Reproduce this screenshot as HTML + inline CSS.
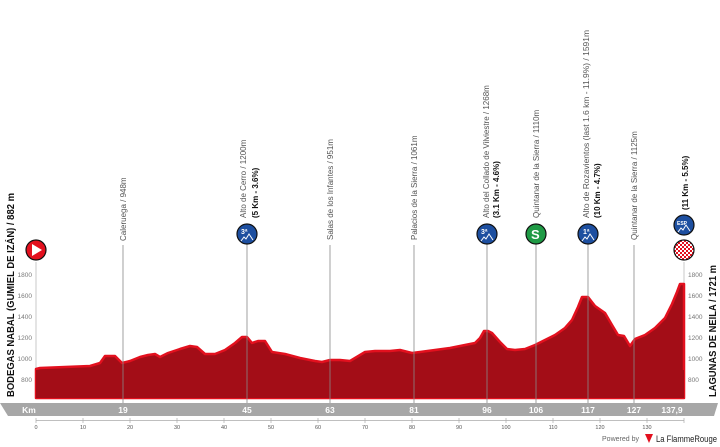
<!DOCTYPE html>
<html><head><meta charset="utf-8"><style>
html,body{margin:0;padding:0;background:#fff;}
svg{display:block;font-family:"Liberation Sans",sans-serif;}
</style></head><body>
<svg width="720" height="447" viewBox="0 0 720 447" xmlns="http://www.w3.org/2000/svg">
<g stroke="#bbb" stroke-width="0.8">
<line x1="36" y1="262" x2="36" y2="398"/>
<line x1="684" y1="262" x2="684" y2="398"/>
</g>
<g font-size="6.5" fill="#777" text-anchor="end">
<text x="32" y="277">1800</text><text x="32" y="298">1600</text><text x="32" y="319">1400</text><text x="32" y="340">1200</text><text x="32" y="361">1000</text><text x="32" y="382">800</text>
</g>
<g font-size="6.5" fill="#777">
<text x="688" y="277">1800</text><text x="688" y="298">1600</text><text x="688" y="319">1400</text><text x="688" y="340">1200</text><text x="688" y="361">1000</text><text x="688" y="382">800</text>
</g>
<path d="M36,398 L36,369 L40,368 L90,366 L100,363 L105,356 L115,356 L122,363 L130,361 L140,357 L148,355 L155,354 L160,357 L168,353 L180,349 L190,346 L197,347 L205,354 L215,354 L225,350 L235,343 L242,337 L247,337 L252,343 L258,341 L265,341 L272,352 L285,354 L300,358 L315,361 L322,362 L330,360 L340,360 L350,361 L355,358 L365,352 L375,351 L390,351 L400,350 L412,353 L420,352 L435,350 L450,348 L465,345 L475,343 L480,338 L484,331 L488,331 L492,333 L500,342 L507,349 L515,350 L525,349 L535,345 L545,340 L555,335 L565,328 L572,320 L578,307 L582,297 L588,297 L595,306 L605,313 L612,325 L618,335 L624,336 L630,346 L635,339 L645,335 L655,328 L665,318 L672,304 L677,292 L680,284 L684,284 L684,398 Z" fill="#a30d17" stroke="#e3101e" stroke-width="2.5" stroke-linejoin="round"/>
<rect x="36" y="370" width="648" height="28" fill="#a30d17"/>
<g stroke="#888" stroke-width="0.8">
<line x1="123" y1="245" x2="123" y2="404"/>
<line x1="247" y1="243" x2="247" y2="404"/>
<line x1="330" y1="245" x2="330" y2="404"/>
<line x1="414" y1="245" x2="414" y2="404"/>
<line x1="487" y1="243" x2="487" y2="404"/>
<line x1="536" y1="243" x2="536" y2="404"/>
<line x1="588" y1="243" x2="588" y2="404"/>
<line x1="634" y1="245" x2="634" y2="404"/>
</g>
<g font-size="8" fill="#555">
<text transform="translate(126,241) rotate(-90)">Caleruega / 948m</text>
<text transform="translate(246,218) rotate(-90)">Alto de Cerro / 1200m</text>
<text transform="translate(333,240) rotate(-90)">Salas de los Infantes / 951m</text>
<text transform="translate(417,240) rotate(-90)">Palacios de la Sierra / 1061m</text>
<text transform="translate(489,218) rotate(-90)">Alto del Collado de Vilviestre / 1268m</text>
<text transform="translate(539,218) rotate(-90)">Quintanar de la Sierra / 1110m</text>
<text transform="translate(589,218) rotate(-90)" textLength="188" lengthAdjust="spacingAndGlyphs">Alto de Rozavientos (last 1.6 km - 11.9%) / 1591m</text>
<text transform="translate(637,240) rotate(-90)">Quintanar de la Sierra / 1125m</text>
</g>
<g font-size="8" fill="#111" font-weight="bold">
<text transform="translate(258,218) rotate(-90)">(5 Km - 3.6%)</text>
<text transform="translate(499,218) rotate(-90)">(3.1 Km - 4.6%)</text>
<text transform="translate(600,218) rotate(-90)">(10 Km - 4.7%)</text>
<text transform="translate(688,210) rotate(-90)">(11 Km - 5.5%)</text>
</g>
<g stroke="#111" stroke-width="1.2">
<circle cx="247" cy="234" r="10" fill="#1d4fa0"/>
<circle cx="487" cy="234" r="10" fill="#1d4fa0"/>
<circle cx="536" cy="234" r="10" fill="#1f9a45"/>
<circle cx="588" cy="234" r="10" fill="#1d4fa0"/>
<circle cx="684" cy="225" r="10" fill="#1d4fa0"/>
<circle cx="36" cy="250" r="10" fill="#e3101e"/>
</g>
<g fill="none" stroke="#fff" stroke-width="1">
<path d="M241,241 l3,-4 l2,2 l3,-5 l4,6"/><path d="M481,241 l3,-4 l2,2 l3,-5 l4,6"/><path d="M582,241 l3,-4 l2,2 l3,-5 l4,6"/><path d="M678,232 l3,-4 l2,2 l3,-5 l4,6"/>
</g>
<g fill="#fff" font-weight="bold" font-size="7">
<text x="241" y="234">3ª</text><text x="481" y="234">3ª</text><text x="583" y="234">1ª</text><text x="677" y="225" font-size="5">ESP</text>
<text x="531" y="239" font-size="13">S</text>
</g>
<path d="M32,244 L42,250 L32,256 Z" fill="#fff"/>
<defs><pattern id="ck" width="4" height="4" patternUnits="userSpaceOnUse"><rect width="4" height="4" fill="#fff"/><rect width="2" height="2" fill="#e3101e"/><rect x="2" y="2" width="2" height="2" fill="#e3101e"/></pattern></defs>
<circle cx="684" cy="250" r="10" fill="url(#ck)" stroke="#111" stroke-width="1.2"/>
<text transform="translate(14,397) rotate(-90)" font-size="10" font-weight="bold" fill="#111" textLength="204" lengthAdjust="spacingAndGlyphs">BODEGAS NABAL (GUMIEL DE IZÁN) / 882 m</text>
<text transform="translate(716,397) rotate(-90)" font-size="10" font-weight="bold" fill="#111" textLength="132" lengthAdjust="spacingAndGlyphs">LAGUNAS DE NEILA / 1721 m</text>
<path d="M0,403 L718,403 L714,416 L8,416 Z" fill="#a7a7a7"/>
<g fill="#fff" font-weight="bold" font-size="8.5" text-anchor="middle">
<text x="29" y="413">Km</text><text x="123" y="413">19</text><text x="247" y="413">45</text><text x="330" y="413">63</text><text x="414" y="413">81</text><text x="487" y="413">96</text><text x="536" y="413">106</text><text x="588" y="413">117</text><text x="634" y="413">127</text><text x="672" y="413">137,9</text>
</g>
<line x1="36" y1="420.5" x2="684" y2="420.5" stroke="#aaa" stroke-width="0.7"/>
<g stroke="#aaa" stroke-width="0.7">
<line x1="36" y1="418" x2="36" y2="423"/><line x1="83" y1="418" x2="83" y2="423"/><line x1="130" y1="418" x2="130" y2="423"/><line x1="177" y1="418" x2="177" y2="423"/><line x1="224" y1="418" x2="224" y2="423"/><line x1="271" y1="418" x2="271" y2="423"/><line x1="318" y1="418" x2="318" y2="423"/><line x1="365" y1="418" x2="365" y2="423"/><line x1="412" y1="418" x2="412" y2="423"/><line x1="459" y1="418" x2="459" y2="423"/><line x1="506" y1="418" x2="506" y2="423"/><line x1="553" y1="418" x2="553" y2="423"/><line x1="600" y1="418" x2="600" y2="423"/><line x1="647" y1="418" x2="647" y2="423"/><line x1="684" y1="418" x2="684" y2="423"/>
</g>
<g font-size="5.5" fill="#555" text-anchor="middle">
<text x="36" y="429">0</text><text x="83" y="429">10</text><text x="130" y="429">20</text><text x="177" y="429">30</text><text x="224" y="429">40</text><text x="271" y="429">50</text><text x="318" y="429">60</text><text x="365" y="429">70</text><text x="412" y="429">80</text><text x="459" y="429">90</text><text x="506" y="429">100</text><text x="553" y="429">110</text><text x="600" y="429">120</text><text x="647" y="429">130</text>
</g>
<text x="602" y="441" font-size="7" fill="#666" textLength="37" lengthAdjust="spacingAndGlyphs">Powered by</text>
<path d="M645,434 L653,434 L649,443 Z" fill="#e3101e"/>
<text x="656" y="442" font-size="9" fill="#222" textLength="61" lengthAdjust="spacingAndGlyphs">La FlammeRouge</text>
</svg>
</body></html>
